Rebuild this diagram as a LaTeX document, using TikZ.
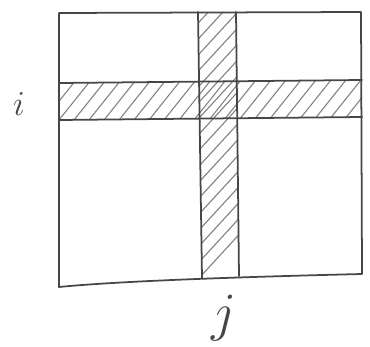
\documentclass[tikz,border=0pt]{standalone}
\usepackage{tikz}
\usetikzlibrary{positioning}
\definecolor{penDark}{RGB}{70,70,70}
\definecolor{penHatch}{RGB}{125,125,125}

\begin{document}
\begin{tikzpicture}[
    x=0.03cm, y=-0.03cm,
    penline/.style={draw=penDark, line width=1.5pt, line join=round, line cap=round},
    hatchline/.style={draw=penHatch, line width=0.9pt, line cap=round},
    idxlabel/.style={font=\Huge, text=penDark, inner sep=0pt}
]
\useasboundingbox (0,0) rectangle (370,347);

% Row i hatching
\begin{scope}
  \clip (60,83) -- (362,80) -- (362,117) -- (60,120) -- cycle;
  \foreach \hx in {40,55,...,370}
    \draw[hatchline] (\hx,125) -- ++(40,-50);
\end{scope}

% Column j hatching
\begin{scope}
  \clip (198,12) -- (236,12) -- (239,276) -- (202,278) -- cycle;
  \foreach \hy in {0,16,...,300}
    \draw[hatchline] (190,\hy) -- ++(55,-60);
\end{scope}

% Matrix frame
\draw[penline] (59,13) -- (361,12) -- (362,274)
  .. controls (280,276) and (130,280) .. (59,287) -- cycle;

% Band borders
\draw[penline] (60,83) -- (362,80);
\draw[penline] (60,120) -- (362,117);
\draw[penline] (198,12) -- (202,278);
\draw[penline] (236,12) -- (239,276);

% Index labels
\node[idxlabel, scale=1.2] (rowlab) at (19,104) {$i$};
\node[idxlabel, scale=1.85] (collab) at (224,318) {$j$};

\end{tikzpicture}
\end{document}
